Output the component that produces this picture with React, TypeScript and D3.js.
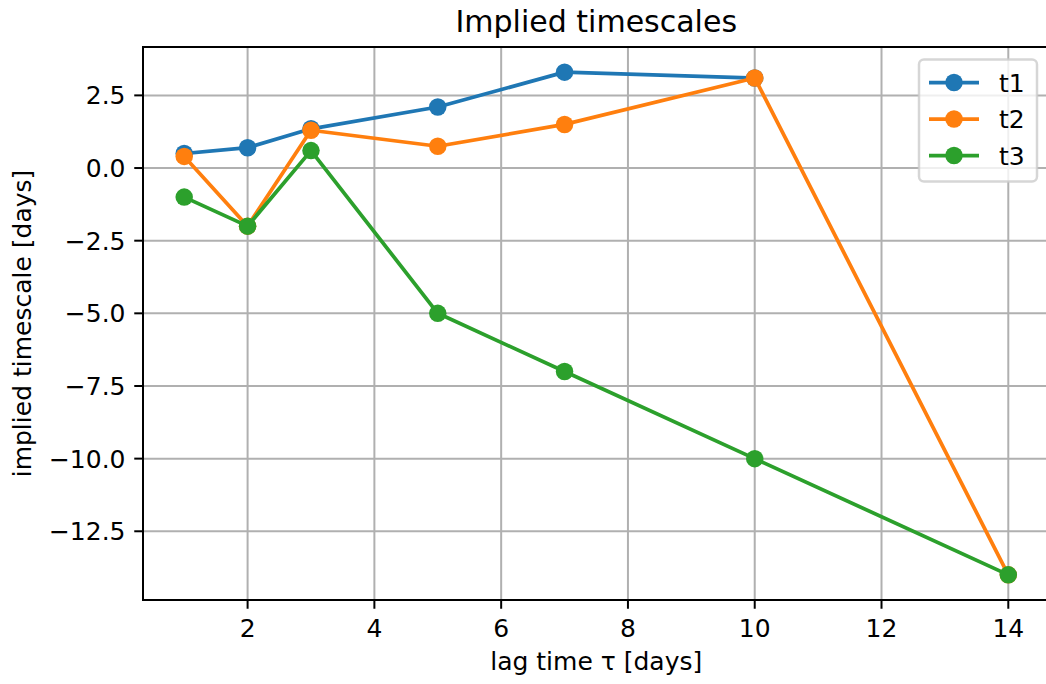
import React from "react";
import * as d3 from "d3";

const lagTimes = [1, 2, 3, 5, 7, 10, 14];
const t1 = [0.5, 0.7, 1.35, 2.1, 3.3, 3.1];
const t2 = [0.4, -2.0, 1.3, 0.75, 1.5, 3.1, -14.0];
const t3 = [-1.0, -2.0, 0.6, -5.0, -7.0, -10.0, -14.0];
const seriesNames = ["t1", "t2", "t3"];
const colors = ["#1f77b4", "#ff7f0e", "#2ca02c"];
const xTicks = [2, 4, 6, 8, 10, 12, 14];
const yTicks = [2.5, 0, -2.5, -5, -7.5, -10, -12.5];

const W = 1046, H = 684;
const left = 143, right = 1049.5, top = 47, bottom = 600;
const font = "DejaVu Sans, sans-serif";

const App = () => {
  const series = [t1, t2, t3].map((vals, i) => ({
    name: seriesNames[i],
    color: colors[i],
    pts: vals.map((v, j) => ({ x: lagTimes[j], y: v })),
  }));

  const ys = [...t1, ...t2, ...t3];
  const [x0, x1] = d3.extent(lagTimes) as [number, number];
  const [y0, y1] = d3.extent(ys) as [number, number];
  const xm = (x1 - x0) * 0.05, ym = (y1 - y0) * 0.05;

  const x = d3.scaleLinear().domain([x0 - xm, x1 + xm]).range([left, right]);
  const y = d3.scaleLinear().domain([y0 - ym, y1 + ym]).range([bottom, top]);

  const line = d3.line<{ x: number; y: number }>()
    .x(d => x(d.x))
    .y(d => y(d.y));

  const fmtY = (v: number) => (v < 0 ? "\u2212" : "") + Math.abs(v).toFixed(1);

  const legX = 919, legY = 59.5, legW = 118, legH = 122;

  return (
    <svg width={W} height={H} style={{ position: "absolute", left: 0, top: 0, background: "#fff" }}
      fontFamily={font}>
      {/* grid */}
      <g stroke="#b0b0b0" strokeWidth={2}>
        {xTicks.map(t => <line key={"gx" + t} x1={x(t)} x2={x(t)} y1={top} y2={bottom} />)}
        {yTicks.map(t => <line key={"gy" + t} x1={left} x2={right} y1={y(t)} y2={y(t)} />)}
      </g>

      {series.map(s => (
        <g key={s.name}>
          <path d={line(s.pts) || ""} fill="none" stroke={s.color} strokeWidth={3.75}
            strokeLinejoin="round" strokeLinecap="square" />
          {s.pts.map((p, i) => (
            <circle key={i} cx={x(p.x)} cy={y(p.y)} r={8.75} fill={s.color} />
          ))}
        </g>
      ))}

      {/* spines */}
      <rect x={left} y={top} width={right - left} height={bottom - top} fill="none" stroke="#000" strokeWidth={2} />

      {/* x ticks */}
      {xTicks.map(t => (
        <g key={"xt" + t}>
          <line x1={x(t)} x2={x(t)} y1={bottom} y2={bottom + 8.75} stroke="#000" strokeWidth={2} />
          <text x={x(t)} y={bottom + 37} textAnchor="middle" fontSize={25}>{t}</text>
        </g>
      ))}
      {/* y ticks */}
      {yTicks.map(t => (
        <g key={"yt" + t}>
          <line x1={left - 8.75} x2={left} y1={y(t)} y2={y(t)} stroke="#000" strokeWidth={2} />
          <text x={left - 17.5} y={y(t) + 9} textAnchor="end" fontSize={25}>{fmtY(t)}</text>
        </g>
      ))}

      <text x={(left + right) / 2} y={32} textAnchor="middle" fontSize={30}>Implied timescales</text>
      <text x={(left + right) / 2} y={670} textAnchor="middle" fontSize={25}>lag time τ [days]</text>
      <text transform={`translate(31, ${(top + bottom) / 2}) rotate(-90)`} textAnchor="middle" fontSize={25}>
        implied timescale [days]
      </text>

      {/* legend */}
      <rect x={legX} y={legY} width={legW} height={legH} rx={5} fill="#fff" fillOpacity={0.8}
        stroke="#cccccc" strokeOpacity={0.8} strokeWidth={2.5} />
      {series.map((s, i) => {
        const cy = legY + 23 + i * 36.5;
        return (
          <g key={"lg" + s.name}>
            <line x1={legX + 10} x2={legX + 60} y1={cy} y2={cy} stroke={s.color} strokeWidth={3.75} />
            <circle cx={legX + 35} cy={cy} r={8.75} fill={s.color} />
            <text x={legX + 80} y={cy + 9} fontSize={25}>{s.name}</text>
          </g>
        );
      })}
    </svg>
  );
};

export default App;
